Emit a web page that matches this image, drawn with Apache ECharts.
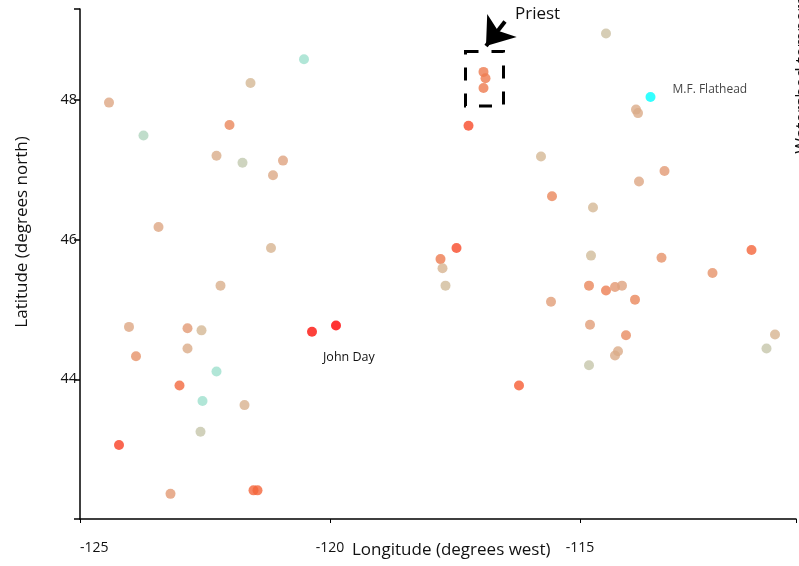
<!DOCTYPE html>
<html>
<head>
<meta charset="utf-8">
<script src="https://cdn.jsdelivr.net/npm/echarts@6/dist/echarts.min.js"></script>
<style>html,body{margin:0;padding:0;background:#fff}#c{width:799px;height:566px}</style>
</head>
<body>
<div id="c"></div>
<script>
// Site longitude (degrees, negative = west)
const lon = [-124.42,-123.73,-123.43,-122.27,-122.01,-121.75,-121.59,-120.94,-121.14,-121.18,-120.52,
  -122.19,-124.02,-122.85,-122.57,-122.85,-123.88,-122.27,-123.01,-122.55,-121.71,-122.59,-124.22,-123.19,
  -121.53,-121.45,-120.36,-119.88,
  -116.93,-116.89,-116.93,-117.23,-114.48,-113.88,-113.84,-115.78,-113.31,-113.82,-115.56,-114.74,
  -117.47,-117.79,-117.75,-114.78,-113.37,-111.57,-112.35,-117.69,-114.82,-114.48,-114.30,-114.16,
  -113.90,-115.58,-114.80,-114.08,-114.24,-114.30,-114.82,-116.22,-111.10,-111.27];
// Site latitude (degrees north)
const lat = [47.96,47.49,46.18,47.20,47.64,47.10,48.24,47.13,46.92,45.88,48.58,
  45.34,44.75,44.73,44.70,44.44,44.33,44.11,43.91,43.69,43.63,43.25,43.06,42.36,
  42.41,42.41,44.68,44.77,
  48.40,48.31,48.17,47.63,48.95,47.86,47.81,47.19,46.98,46.83,46.62,46.46,
  45.88,45.72,45.59,45.77,45.74,45.85,45.52,45.34,45.34,45.27,45.32,45.34,
  45.14,45.11,44.78,44.63,44.40,44.34,44.20,43.91,44.64,44.44];
// Colour value (0 = cool/teal ... 6 = hot/red)
const val = [2.8,0.5,2.8,2.5,4.0,1.0,2.0,3.0,2.7,2.2,0.0,
  2.4,2.8,3.3,2.0,2.6,3.6,0.0,4.7,0.0,2.3,1.2,5.3,3.3,
  4.8,4.8,5.8,6.0,
  4.3,4.3,4.3,5.2,1.5,2.6,2.6,2.0,3.3,2.8,4.0,2.0,
  5.2,4.3,2.2,1.8,3.6,4.8,3.6,1.8,4.0,4.2,3.4,3.0,
  4.0,3.2,3.2,3.8,2.6,2.6,1.2,5.0,2.2,1.2];
// Highlighted site (M.F. Flathead)
const flatheadLon = [-113.59];
const flatheadLat = [48.04];
const flatheadName = ['M.F. Flathead'];
// Annotations
const johnDay = {name: 'John Day', lon: -120.14, lat: 44.31};
const priestLabel = {name: 'Priest', lon: -116.30, lat: 49.22};
const priestArrow = [[-116.50, 49.12], [-116.88, 48.77]];
const priestBox = [[-117.29, 48.69], [-116.53, 47.91]];
const xTicks = [-125, -120, -115];
const yTicks = [44, 46, 48];

const FONT = 'Open Sans';
const pts = lon.map((x, i) => [x, lat[i], val[i]]);
const chart = echarts.init(document.getElementById('c'), null, {renderer: 'canvas'});
chart.setOption({
  backgroundColor: '#fff',
  animation: false,
  grid: {left: 80, right: 0, top: 9, bottom: 47},
  xAxis: {
    type: 'value', min: -125, max: -110.68, interval: 5,
    axisLine: {lineStyle: {color: '#000', width: 1.5}},
    axisTick: {show: true, length: 4, lineStyle: {color: '#000'}},
    splitLine: {show: false},
    axisLabel: {color: '#111', fontFamily: FONT, fontSize: 14, margin: 22, alignMinLabel: 'left',
      formatter: v => xTicks.includes(v) ? String(v) : ''}
  },
  yAxis: {
    type: 'value', min: 42, max: 49.3, interval: 2,
    axisLine: {lineStyle: {color: '#000', width: 1.5}},
    axisTick: {show: true, length: 6, lineStyle: {color: '#000', width: 1.5}},
    splitLine: {show: false},
    axisLabel: {color: '#111', fontFamily: FONT, fontSize: 14.5, margin: 3,
      formatter: v => yTicks.includes(v) ? String(v) : ''}
  },
  visualMap: {
    show: false, type: 'continuous', seriesIndex: 0, dimension: 2, min: 0, max: 6,
    inRange: {color: ['#9ee0cd', '#c2c9af', '#d5b895', '#dfa27f', '#ea875b', '#f65c33', '#ff0000']}
  },
  series: [
    {
      type: 'scatter', symbolSize: 10, data: pts,
      markArea: {
        silent: true,
        itemStyle: {color: 'rgba(0,0,0,0)', borderColor: '#000', borderWidth: 3, borderType: [13, 13]},
        data: [[{coord: priestBox[0]}, {coord: priestBox[1]}]]
      },
      markLine: {
        silent: true, symbol: ['none', 'arrow'], symbolSize: [28, 26],
        lineStyle: {color: '#000', width: 4, type: 'solid'},
        label: {show: false},
        data: [[{coord: priestArrow[0]}, {coord: priestArrow[1]}]]
      },
      markPoint: {
        silent: true, symbol: 'circle', symbolSize: 0,
        data: [
          {coord: [priestLabel.lon, priestLabel.lat], value: priestLabel.name,
           label: {show: true, position: 'right', distance: 0, formatter: priestLabel.name, color: '#111', fontFamily: FONT, fontSize: 17}},
          {coord: [johnDay.lon, johnDay.lat], value: johnDay.name,
           label: {show: true, position: 'right', distance: 0, formatter: johnDay.name, color: '#111', fontFamily: FONT, fontSize: 12.5}}
        ]
      }
    },
    {
      type: 'scatter', symbolSize: 10,
      itemStyle: {color: '#00ffff'},
      data: flatheadLon.map((x, i) => ({value: [x, flatheadLat[i]], name: flatheadName[i]})),
      label: {show: true, position: 'right', distance: 17, offset: [0, -7], formatter: '{b}',
        color: '#111', fontFamily: FONT, fontSize: 12}
    }
  ],
  graphic: [
    {type: 'text', left: 352, top: 542, style: {text: 'Longitude (degrees west)', fill: '#111', font: '17px "Open Sans"'}},
    {type: 'text', x: 22, y: 232, rotation: Math.PI / 2,
     style: {text: 'Latitude (degrees north)', fill: '#111', font: '17px "Open Sans"', align: 'center', verticalAlign: 'middle'}},
    {type: 'text', x: 802, y: 58, rotation: Math.PI / 2,
     style: {text: 'Watershed temperature', fill: '#111', font: '17px "Open Sans"', align: 'center', verticalAlign: 'middle'}}
  ]
});
</script>
</body>
</html>
